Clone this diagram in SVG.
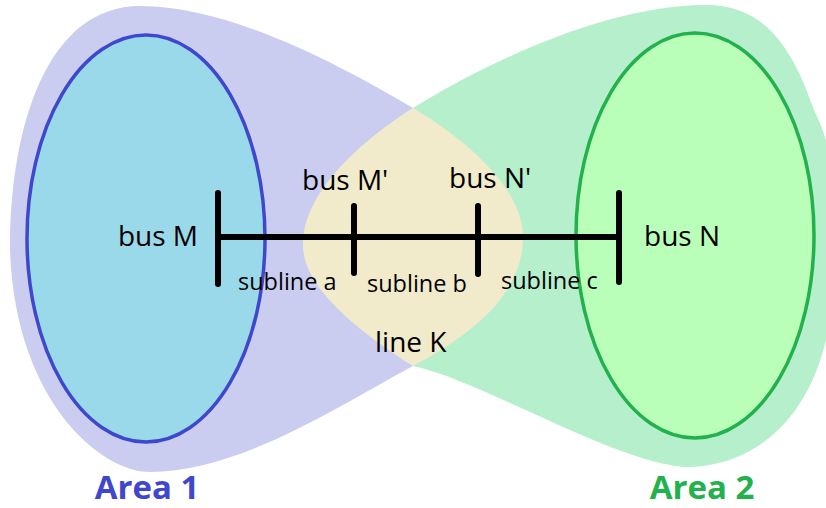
<svg xmlns="http://www.w3.org/2000/svg" width="826" height="508" viewBox="0 0 826 508">
  <style>
    text { font-family: "Open Sans", "Noto Sans", "DejaVu Sans", sans-serif; fill: #000; }
    .bus-label { font-size: 28px; }
    .sub-label { font-size: 23.5px; }
    .area-label { font-size: 33px; font-weight: bold; text-anchor: middle; }
    .bar { stroke: #000; stroke-width: 6; stroke-linecap: round; fill: none; }
    .segment { stroke: #000; stroke-width: 6; fill: none; }
  </style>
  <defs>
    <path id="blob-left" d="M 140,6 C 230,6 340,65 413,108 C 470,142 523,190 523,237 C 523,290 480,330 413,366 C 340,405 240,472 150,472 C 100,472 15,400 10,250 C 10,120 50,6 140,6 Z"/>
    <path id="blob-right" d="M 706,5 C 610,5 490,60 413,108 C 355,145 303,195 303,245 C 303,290 365,335 413,366 C 480,380 610,460 683,467 C 770,467 815,400 828,330 C 845,250 840,160 814,110 C 790,40 760,5 706,5 Z"/>
    <clipPath id="clip-right">
      <use href="#blob-right"/>
    </clipPath>
  </defs>

  <!-- Area 1: outer region, inner area and label -->
  <g id="area-1">
    <use href="#blob-left" fill="#CBCDF0"/>
  </g>

  <!-- Area 2: outer region -->
  <g id="area-2">
    <use href="#blob-right" fill="#B6EFCC"/>
  </g>

  <!-- Shared region where both areas overlap (line K) -->
  <g id="line-k">
    <use href="#blob-left" fill="#F2EBCB" clip-path="url(#clip-right)"/>
    <text class="bus-label" x="375" y="352">line K</text>
  </g>

  <g id="area-1-core">
    <ellipse cx="146" cy="238.5" rx="119" ry="203.5" fill="#99D9EA" stroke="#3F48CC" stroke-width="3.5"/>
    <text class="area-label" x="147" y="499" fill="#3F48CC" style="fill:#3F48CC">Area 1</text>
  </g>

  <g id="area-2-core">
    <ellipse cx="695" cy="235.5" rx="119" ry="202.5" fill="#B9FFB9" stroke="#22B14C" stroke-width="3.5"/>
    <text class="area-label" x="702" y="499" style="fill:#22B14C">Area 2</text>
  </g>

  <!-- Sublines between the buses -->
  <g id="connectors">
    <g id="subline-a">
      <line class="segment" x1="218" y1="237" x2="354" y2="237"/>
      <text class="sub-label" x="238" y="290">subline a</text>
    </g>
    <g id="subline-b">
      <line class="segment" x1="354" y1="237" x2="478" y2="237"/>
      <text class="sub-label" x="367" y="292">subline b</text>
    </g>
    <g id="subline-c">
      <line class="segment" x1="478" y1="237" x2="619" y2="237"/>
      <text class="sub-label" x="501" y="289">subline c</text>
    </g>
  </g>

  <!-- Buses -->
  <g id="bus-m">
    <line class="bar" x1="218" y1="193" x2="218" y2="284"/>
    <text class="bus-label" x="198" y="246" text-anchor="end">bus M</text>
  </g>
  <g id="bus-m-prime">
    <line class="bar" x1="354" y1="206" x2="354" y2="273"/>
    <text class="bus-label" x="302" y="190">bus M'</text>
  </g>
  <g id="bus-n-prime">
    <line class="bar" x1="478" y1="206" x2="478" y2="274"/>
    <text class="bus-label" x="449" y="188">bus N'</text>
  </g>
  <g id="bus-n">
    <line class="bar" x1="619" y1="193" x2="619" y2="282"/>
    <text class="bus-label" x="644" y="246">bus N</text>
  </g>
</svg>
